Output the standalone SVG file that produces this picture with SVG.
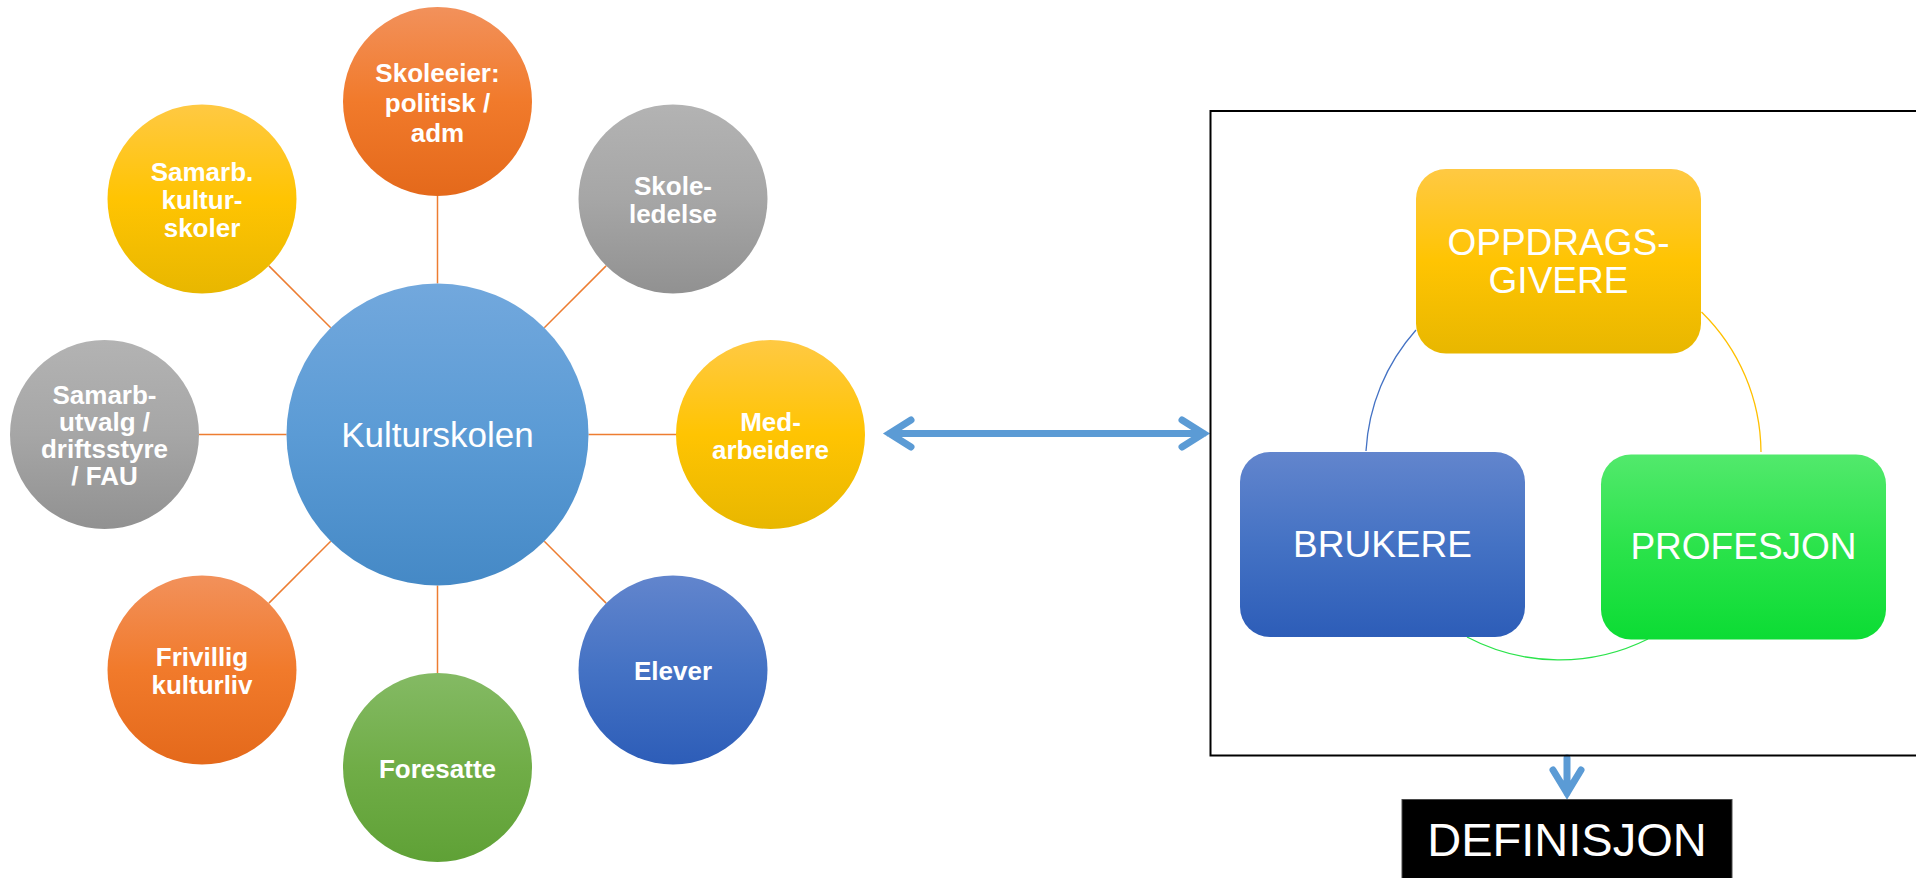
<svg xmlns="http://www.w3.org/2000/svg" width="1916" height="878" viewBox="0 0 1916 878">
  <style>
    .lbl { font-family: "Liberation Sans", Arial, sans-serif; font-weight: bold; font-size: 26px; fill: #ffffff; text-anchor: middle; }
    .big { font-family: "Liberation Sans", Arial, sans-serif; font-size: 37px; fill: #ffffff; text-anchor: middle; }
    .spoke { stroke: #ED7D31; stroke-width: 1.5; fill: none; }
    .arrow { stroke: #5B9BD5; stroke-width: 7; fill: none; stroke-linecap: round; stroke-linejoin: miter; }
    .arc { fill: none; stroke-width: 1.3; }
  </style>
  <defs>
    <linearGradient id="gOrange" x1="0" y1="0" x2="0" y2="1">
      <stop offset="0" stop-color="#F2915B"/><stop offset="0.5" stop-color="#F17A2B"/><stop offset="1" stop-color="#E4691B"/>
    </linearGradient>
    <linearGradient id="gYellow" x1="0" y1="0" x2="0" y2="1">
      <stop offset="0" stop-color="#FFC943"/><stop offset="0.5" stop-color="#FFC402"/><stop offset="1" stop-color="#E8B700"/>
    </linearGradient>
    <linearGradient id="gGray" x1="0" y1="0" x2="0" y2="1">
      <stop offset="0" stop-color="#B3B3B3"/><stop offset="0.5" stop-color="#A6A6A6"/><stop offset="1" stop-color="#919191"/>
    </linearGradient>
    <linearGradient id="gLightBlue" x1="0" y1="0" x2="0" y2="1">
      <stop offset="0" stop-color="#72A8DD"/><stop offset="0.5" stop-color="#5B9BD5"/><stop offset="1" stop-color="#4589C6"/>
    </linearGradient>
    <linearGradient id="gBlue" x1="0" y1="0" x2="0" y2="1">
      <stop offset="0" stop-color="#6285CD"/><stop offset="0.5" stop-color="#4472C4"/><stop offset="1" stop-color="#2D5DB8"/>
    </linearGradient>
    <linearGradient id="gGreen" x1="0" y1="0" x2="0" y2="1">
      <stop offset="0" stop-color="#84BA64"/><stop offset="0.5" stop-color="#70AD47"/><stop offset="1" stop-color="#5FA136"/>
    </linearGradient>
    <linearGradient id="gBrightGreen" x1="0" y1="0" x2="0" y2="1">
      <stop offset="0" stop-color="#52E96C"/><stop offset="0.5" stop-color="#2BE34B"/><stop offset="1" stop-color="#0CDC34"/>
    </linearGradient>
  </defs>

  <g id="connectors">
    <line class="spoke" x1="437.5" y1="283.5" x2="437.5" y2="196"/>
    <line class="spoke" x1="544.3" y1="327.7" x2="606.1" y2="265.9"/>
    <line class="spoke" x1="588.5" y1="434.5" x2="676" y2="434.5"/>
    <line class="spoke" x1="544.3" y1="541.3" x2="606.1" y2="603.1"/>
    <line class="spoke" x1="437.5" y1="585.5" x2="437.5" y2="673"/>
    <line class="spoke" x1="330.7" y1="541.3" x2="268.9" y2="603.1"/>
    <line class="spoke" x1="286.5" y1="434.5" x2="199" y2="434.5"/>
    <line class="spoke" x1="330.7" y1="327.7" x2="268.9" y2="265.9"/>
    <path class="arrow" d="M 889.5 433.5 H 1203.5 M 911 420 L 889.5 433.5 L 911 447 M 1182 420 L 1203.5 433.5 L 1182 447"/>
    <path class="arrow" d="M 1567 758 V 793 M 1553 770 L 1567 793 L 1581 770"/>
    <path class="arc" stroke="#4472C4" d="M 1366 451 A 198 198 0 0 1 1416 330"/>
    <path class="arc" stroke="#FFC000" d="M 1701.5 312 A 198 198 0 0 1 1761 452"/>
    <path class="arc" stroke="#2BE34B" d="M 1648 639 A 198 198 0 0 1 1467 637"/>
  </g>

  <g id="kulturskolen">
    <circle cx="437.5" cy="434.5" r="151" fill="url(#gLightBlue)"/>
    <text x="437.5" y="447" font-family="Liberation Sans, Arial, sans-serif" font-size="35" fill="#ffffff" text-anchor="middle">Kulturskolen</text>
  </g>

  <g id="skoleeier">
    <circle cx="437.5" cy="101.5" r="94.5" fill="url(#gOrange)"/>
    <text class="lbl" x="437.5" y="81.5">Skoleeier:</text>
    <text class="lbl" x="437.5" y="111.5">politisk /</text>
    <text class="lbl" x="437.5" y="141.5">adm</text>
  </g>

  <g id="skoleledelse">
    <circle cx="673" cy="199" r="94.5" fill="url(#gGray)"/>
    <text class="lbl" x="673" y="195">Skole-</text>
    <text class="lbl" x="673" y="223">ledelse</text>
  </g>

  <g id="medarbeidere">
    <circle cx="770.5" cy="434.5" r="94.5" fill="url(#gYellow)"/>
    <text class="lbl" x="770.5" y="430.5">Med-</text>
    <text class="lbl" x="770.5" y="458.5">arbeidere</text>
  </g>

  <g id="elever">
    <circle cx="673" cy="670" r="94.5" fill="url(#gBlue)"/>
    <text class="lbl" x="673" y="680">Elever</text>
  </g>

  <g id="foresatte">
    <circle cx="437.5" cy="767.5" r="94.5" fill="url(#gGreen)"/>
    <text class="lbl" x="437.5" y="777.5">Foresatte</text>
  </g>

  <g id="frivillig">
    <circle cx="202" cy="670" r="94.5" fill="url(#gOrange)"/>
    <text class="lbl" x="202" y="666">Frivillig</text>
    <text class="lbl" x="202" y="694">kulturliv</text>
  </g>

  <g id="samarbutvalg">
    <circle cx="104.5" cy="434.5" r="94.5" fill="url(#gGray)"/>
    <text class="lbl" x="104.5" y="404">Samarb-</text>
    <text class="lbl" x="104.5" y="431">utvalg /</text>
    <text class="lbl" x="104.5" y="458">driftsstyre</text>
    <text class="lbl" x="104.5" y="485">/ FAU</text>
  </g>

  <g id="samarbkulturskoler">
    <circle cx="202" cy="199" r="94.5" fill="url(#gYellow)"/>
    <text class="lbl" x="202" y="181">Samarb.</text>
    <text class="lbl" x="202" y="209">kultur-</text>
    <text class="lbl" x="202" y="237">skoler</text>
  </g>

  <g id="frame">
    <rect x="1210.5" y="111" width="720" height="644.5" fill="none" stroke="#000000" stroke-width="2"/>
  </g>

  <g id="oppdragsgivere">
    <rect x="1416" y="169" width="285" height="184.5" rx="30" ry="30" fill="url(#gYellow)"/>
    <text class="big" x="1558.5" y="254.5">OPPDRAGS-</text>
    <text class="big" x="1558.5" y="292.5">GIVERE</text>
  </g>

  <g id="brukere">
    <rect x="1240" y="452" width="285" height="185" rx="30" ry="30" fill="url(#gBlue)"/>
    <text class="big" x="1382.5" y="556.5">BRUKERE</text>
  </g>

  <g id="profesjon">
    <rect x="1601" y="454.5" width="285" height="185" rx="30" ry="30" fill="url(#gBrightGreen)"/>
    <text class="big" x="1743.5" y="558.5">PROFESJON</text>
  </g>

  <g id="definisjon">
    <rect x="1402" y="799.5" width="330" height="90" fill="#000000" stroke="#4a4a4a" stroke-width="1"/>
    <text x="1567" y="856" font-family="Liberation Sans, Arial, sans-serif" font-size="47" fill="#ffffff" text-anchor="middle">DEFINISJON</text>
  </g>
</svg>
